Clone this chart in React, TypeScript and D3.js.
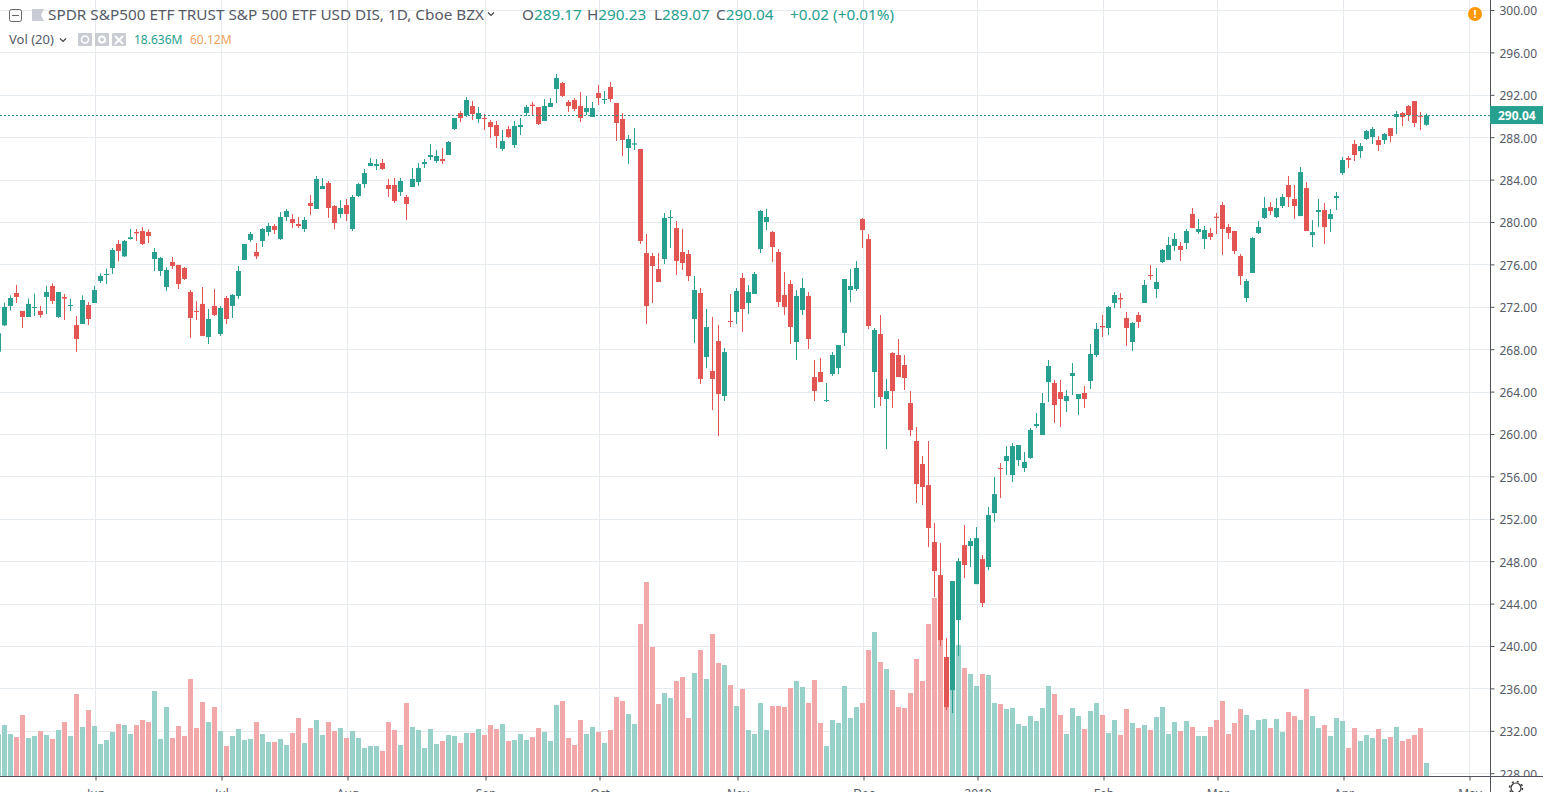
import { useEffect, useRef } from "react";
import * as d3 from "d3";

type Candle = [number, number, number, number]; // open, high, low, close

const may18: Candle[] = [
  [267.77,269.5,267.55,269.5],[270.25,272.39,270.19,271.98],[272.08,273.08,271.64,272.83],[273.3,274.06,272.36,272.93],
  [271.61,271.61,270,271.04],[271.04,272.77,271.04,272.27],[271.92,273.24,271.13,271.98],[271.61,272.08,270.98,271.23],
  [272.93,273.97,271.32,273.4],[273.97,274.22,272.27,272.55],[271.04,273.4,270.95,273.4],[272.93,273.21,270.75,272.77],
  [272.08,272.77,271.61,272.17],[270.28,271.13,267.73,268.96],[270.38,273.08,270.38,272.64],[272.17,272.45,270.28,270.85],
];
const jun18: Candle[] = [
  [272.36,273.97,272.36,273.58],[274.44,275.16,274.25,274.91],[275,275.6,274.15,275.1],[275.66,277.55,275.1,277.36],
  [277.93,278.31,276.29,277.27],[276.76,278.31,276.7,278.21],[278.4,279.34,278.34,278.56],[279.06,279.34,278.21,278.93],
  [279.15,279.53,277.83,277.93],[279.06,279.31,278.02,278.68],[276.51,277.55,275.38,277.17],[275.38,276.7,274.91,276.61],
  [273.87,275.73,273.49,275.47],[276.23,276.7,275.57,275.85],[275.95,275.95,273.68,274.15],[275.66,275.76,274.53,274.63],
  [273.4,273.58,269.06,270.95],[271.61,272.55,270.75,271.54],[272.27,273.87,269.25,269.25],[269.15,271.8,268.49,270.85],
  [272.08,273.68,271.13,271.23],
];
const jul18: Candle[] = [
  [269.44,272.08,269.25,271.89],[272.83,273.02,270.38,270.85],[272.08,273.21,270.95,273.12],[273.02,275.85,272.74,275.38],
  [276.42,277.93,276.42,277.93],[278.31,279.06,278.12,278.87],[277.17,278.02,276.51,276.76],[278.21,279.44,277.65,279.34],
  [279.06,279.91,278.68,279.63],[279.62,279.81,278.87,279.24],[278.39,280.94,278.3,280.47],[280.47,281.23,280.09,281.04],
  [280.28,280.75,279.43,279.9],[279.81,280.47,279.43,279.62],[279.34,280.47,279.06,280.19],[281.79,282.55,280.66,281.51],
  [281.23,284.34,281.23,284.06],[283.11,284.15,283.11,283.4],[283.68,283.87,280.38,281.32],[281.51,281.6,279.31,279.9],
  [280.75,282.07,280.38,281.32],
];
const aug18: Candle[] = [
  [281.6,282.17,280.09,280.75],[279.34,282.55,279.15,282.36],[282.45,283.68,282.36,283.58],[283.58,285,283.21,284.62],
  [285.28,286.04,285.28,285.57],[285.28,285.94,284.9,285.47],[285.57,285.94,284.9,285],[283.49,284.06,282.36,283.11],
  [283.49,284.15,281.79,281.98],[282.83,284.15,282.45,283.87],[282.36,282.55,280.19,281.7],[283.3,285.09,283.3,284.06],
  [283.77,285.57,283.4,285.09],[285.47,285.94,285.09,285.66],[286.13,287.36,285.85,286.32],[285.75,286.79,285.57,286.23],
  [285.94,286.98,285.47,285.75],[286.32,287.64,286.32,287.55],[288.77,289.81,288.68,289.81],[290.28,290.47,289.43,289.81],
  [290.09,291.79,289.91,291.51],[290.94,291.42,289.62,290.19],[289.72,290.85,289.34,290.28],
];
const sep18: Candle[] = [
  [289.81,290.19,288.68,289.72],[289.43,289.62,287.92,288.96],[289.15,289.53,286.98,288.11],[286.89,288.68,286.7,287.64],
  [288.77,289.06,287.92,288.02],[287.26,289.53,286.98,289.06],[288.96,289.81,288.21,289.15],[290.28,291.04,290,290.85],
  [291.07,291.32,290,290.94],[290.85,290.85,289.15,289.25],[289.53,291.6,289.53,290.94],[290.85,291.7,290.85,291.23],
  [292.55,293.96,291.23,293.59],[293.11,293.21,291.79,291.89],[291.32,291.51,290.38,290.94],[291.51,291.7,290.47,290.66],
  [290.94,292.26,289.43,289.81],[290.38,291.89,290.09,290.75],[289.91,291.32,289.91,290.75],
];
const oct18: Candle[] = [
  [292.17,292.92,291.04,291.7],[291.51,292.36,291.13,291.6],[292.74,293.21,291.32,291.6],[291.23,291.23,287.64,289.34],
  [289.72,290.28,286.23,287.74],[286.98,288.21,285.47,287.83],[287.3,288.87,286.79,287.42],[286.89,286.89,277.92,278.21],
  [277.07,278.87,270.38,272.07],[276.79,277.07,272.36,275.85],[275.56,277.07,274.34,274.34],[276.51,280.85,276.04,280.38],
  [280.38,281.13,277.55,280.47],[279.43,280.09,275,276.32],[277.17,279.34,275.47,276.13],[276.98,277.36,274.43,274.9],
  [270.85,274.9,268.58,273.58],[273.3,273.77,264.71,265.19],[267.26,271.79,266.22,270.09],[265.94,271.04,262.26,265.19],
  [268.77,270.28,259.81,263.77],[263.58,268.11,263.11,267.73],[270.66,273.21,270.09,270.56],
];
const nov18: Candle[] = [
  [271.51,273.77,270.38,273.49],[274.72,275.19,269.62,271.79],[272.36,274.05,271.32,273.39],[273.21,275.28,273.21,275.09],
  [277.45,281.13,277.07,281.04],[280,281.23,279.24,280.47],[279.06,279.15,276.22,277.64],[277.17,277.45,271.98,272.45],
  [273.11,275.28,271.22,271.98],[274.15,274.53,268.49,270.09],[268.68,273.58,266.98,273.02],[271.7,274.72,271.22,273.77],
  [273.02,273.39,268.02,268.96],[265.37,266.98,263.11,264.05],[265.85,267.17,264.9,264.9],[263.11,264.81,263.02,263.2],
  [265.66,267.73,265.47,267.45],[266.22,268.39,265.66,268.39],[269.53,274.62,268.3,274.62],[273.58,275.56,272.45,273.96],
  [273.68,276.32,273.49,275.66],
];
const dec18: Candle[] = [
  [280.28,280.38,277.54,279.24],[278.39,278.87,269.9,270.19],[265.85,270,262.45,269.81],[269.43,271.22,262.64,263.49],
  [263.3,265.18,258.58,264.05],[267.64,267.73,262.45,264.05],[267.45,268.96,265.37,265.37],[266.51,267.45,264.15,265.28],
  [262.92,264.05,259.81,260.37],[259.34,260.66,253.49,255.28],[257.17,257.92,253.3,255],[255.18,259.34,249.33,251.13],
  [249.81,251.6,244.62,247.07],[246.69,249.71,239.99,240.56],[238.96,240.75,233.95,234.24],[235.84,246.13,233.67,246.13],
  [242.45,248.3,239.05,248.01],[249.52,251.41,246.41,247.64],[249.43,250.18,247.45,249.9],
];
const jan19: Candle[] = [
  [245.84,251.22,245.84,250.18],[248.2,248.58,243.67,244.05],[247.45,253.11,247.16,252.35],[252.54,255.94,251.69,254.33],
  [256.79,257.26,253.96,256.69],[257.45,258.86,256.13,257.92],[256.13,259.15,255.47,258.86],[257.54,258.96,256.98,258.96],
  [256.79,258.3,256.42,257.36],[257.74,260.57,257.65,260.38],[260.75,261.98,260.56,260.94],[259.9,263.87,259.9,262.92],
  [264.9,266.98,263.02,266.41],[264.81,265.09,261.04,262.73],[263.96,265.09,260.66,263.3],[263.11,264.15,262.07,263.58],
  [265.47,266.7,263.68,265.75],[263.3,263.77,261.79,263.77],[263.87,264.53,262.45,263.3],[265,268.49,264.24,267.55],
  [267.45,270.47,267.26,269.91],
];
const feb19: Candle[] = [
  [270.19,271.23,269.15,270.06],[270,272.08,269.34,271.98],[272.36,273.4,271.89,273.11],[272.83,273.3,271.89,272.7],
  [270.94,271.51,268.3,270],[268.68,270.57,267.83,270.47],[271.23,271.51,270,270.57],[272.36,274.53,272.36,274.06],
  [275,275.94,274.53,274.91],[273.68,275.66,272.83,274.34],[276.23,277.45,276.13,277.36],[276.42,278.59,276.42,277.83],
  [277.74,278.96,277.26,278.4],[277.74,278.11,276.32,277.36],[278.02,279.34,277.45,279.15],[280.76,281.32,279.43,279.43],
  [279.06,280.28,278.87,279.34],[278.4,279.62,277.45,279.25],[278.96,279.43,278.3,278.59],
];
const mar19: Candle[] = [
  [280.5,280.85,278.87,280.38],[281.6,281.89,276.89,279.34],[279.53,279.81,278.4,278.96],[279.15,279.15,276.98,277.26],
  [276.79,276.98,274.06,274.91],[272.83,274.62,272.45,274.43],[275.19,278.59,275.19,278.49],[278.96,280.1,278.87,279.53],
  [280.38,282.36,280.28,281.32],[281.41,281.88,280.66,281.03],[280.47,282.26,280.37,281.32],[281.51,282.64,281.32,282.35],
  [283.49,284.34,281.41,282.35],[282.17,283.49,280.28,281.51],[280.56,285.19,280.56,284.71],[283.2,283.77,279.15,279.15],
  [278.77,280.18,277.64,279.05],[280.94,282.17,279.52,281.13],[281.13,281.79,277.92,279.52],[280.28,281.22,279.05,280.75],
  [282.26,282.83,281.13,282.45],
];
const apr19: Candle[] = [
  [284.62,286.13,284.43,285.85],[286.03,286.22,285.09,285.85],[287.36,287.73,285.75,286.32],[286.69,287.45,286.03,287.17],
  [287.83,288.68,287.73,288.58],[288.02,288.96,287.36,288.77],[287.73,288.11,286.69,287.26],[287.73,288.39,287.36,288.3],
  [288.86,288.86,287.54,288.11],[289.9,290.47,288.3,290.19],[290.28,290.37,289.05,289.9],[290.94,291.03,289.53,290.09],
  [291.41,291.41,288.96,289.34],[290.03,290.37,288.68,289.93],[289.17,290.23,289.07,290.04],
];

// millions of shares, one per candle
const volumes = [
  60.2,73.1,60.2,55.9,87.5,54.5,57.4,64.5,58.8,53.1,66,77.4,57.4,117.6,70.3,94.6,71.7,45.9,51.6,63.1,74.6,73.1,60.2,73.1,80.3,77.4,121.9,53.1,98.9,54.5,71.7,57.4,139.1,68.8,106.1,77.4,98.9,64.5,43,57.4,67.4,51.6,53.1,77.4,60.2,48.8,48.8,53.1,44.5,61.7,83.2,47.3,68.8,80.3,58.8,77.4,64.5,68.8,54.5,64.5,54.5,40.2,43,43,35.9,77.4,66,
  44.5,104.7,70.3,66,40.2,67.4,45.9,50.2,58.8,57.4,47.3,61.7,61.7,67.4,58.8,73.1,67.4,74.6,50.2,51.6,60.2,51.6,55.9,68.8,63.1,50.2,101.8,107.6,54.5,44.5,80.3,60.2,70.3,63.1,47.3,66,113.3,107.6,88.9,74.6,218,278.2,185,103.2,119,111.9,136.2,142,83.2,147.7,180.7,139.1,203.6,162,159.2,130.5,100.4,124.8,66,60.2,104.7,66,100.4,100.4,98.9,126.2,136.2,
  127.6,104.7,137.7,76,43,80.3,76,129.1,83.2,98.9,104.7,180.7,206.5,163.5,153.4,123.3,98.9,97.5,119,167.8,136.2,218,255.3,209.4,167.3,153,187.9,154.9,146.3,129.1,146.3,144.8,104.7,103.2,96.1,97.5,74.6,71.7,86,78.9,97.5,129.1,117.6,87.5,60.2,97.5,86,67.4,93.2,104.7,87.5,61.7,80.3,58.8,96.1,76,68.8,73.1,66,84.6,98.9,60.2,77.4,64.5,78.9,
  70.3,57.4,57.4,70.3,80.3,107.6,60.2,76,96.1,87.5,66,80.3,81.7,68.8,81.7,63.1,91.8,86,80.3,124.8,86,68.8,73.1,57.4,83.2,78.9,40.2,68.8,50.2,58.8,54.5,67.4,53.1,55.9,70.3,50.2,53.1,58.8,68.8,18.6,
];

const months = [may18, jun18, jul18, aug18, sep18, oct18, nov18, dec18, jan19, feb19, mar19, apr19];
const monthLabels = ["Jun", "Jul", "Aug", "Sep", "Oct", "Nov", "Dec", "2019", "Feb", "Mar", "Apr", "May"];
const priceTicks = [228, 232, 236, 240, 244, 248, 252, 256, 260, 264, 268, 272, 276, 280, 284, 288, 292, 296, 300];
const lastClose = 290.04;
const tradingDaysApril = 21;

const UP = "#27a090";
const DOWN = "#e35553";
const VOL_UP = "#97d1ca";
const VOL_DOWN = "#f2a8a8";
const GRID = "#e6ebef";
const AXIS = "#50535e";
const TEXT = "#555a66";
const FONT = "'Noto Sans', 'Open Sans', sans-serif";

const WIDTH = 1546;
const HEIGHT = 792;
const PANE_RIGHT = 1490;
const PANE_BOTTOM = 776;

export default function App() {
  const svgRef = useRef<SVGSVGElement | null>(null);

  useEffect(() => {
    if (!svgRef.current) return;
    const svg = d3.select(svgRef.current);
    svg.selectAll("*").remove();

    const candles = months.flat();

    // month starts as candle indexes, first one is the May stub so it has no label
    const monthStarts: number[] = [];
    let running = 0;
    months.forEach((m) => {
      running += m.length;
      monthStarts.push(running);
    });
    monthStarts[monthStarts.length - 1] = monthStarts[monthStarts.length - 2] + tradingDaysApril;

    const x = d3.scaleLinear().domain([0, 245]).range([-1.5, 1468.5]);
    const y = d3.scaleLinear().domain([228, 300]).range([773.2, 10]);
    const yVol = d3.scaleLinear().domain([0, 278.2]).range([PANE_BOTTOM, 582]);

    // grid
    svg.append("g")
      .selectAll("line")
      .data(priceTicks)
      .enter()
      .append("line")
      .attr("x1", 0)
      .attr("x2", PANE_RIGHT)
      .attr("y1", (d) => Math.round(y(d)) + 0.5)
      .attr("y2", (d) => Math.round(y(d)) + 0.5)
      .attr("stroke", GRID);

    svg.append("g")
      .selectAll("line")
      .data(monthStarts)
      .enter()
      .append("line")
      .attr("x1", (d) => x(d) + 1)
      .attr("x2", (d) => x(d) + 1)
      .attr("y1", 0)
      .attr("y2", PANE_BOTTOM)
      .attr("stroke", GRID);

    // volume
    svg.append("g")
      .selectAll("rect")
      .data(volumes)
      .enter()
      .append("rect")
      .attr("x", (_, i) => x(i) - 2.5)
      .attr("width", 5)
      .attr("y", (d) => yVol(d))
      .attr("height", (d) => PANE_BOTTOM - yVol(d))
      .attr("fill", (_, i) => (candles[i][3] >= candles[i][0] ? VOL_UP : VOL_DOWN));

    // candles
    const candleGroup = svg.append("g")
      .selectAll("g")
      .data(candles)
      .enter()
      .append("g")
      .attr("fill", (d) => (d[3] >= d[0] ? UP : DOWN));

    candleGroup.append("rect")
      .attr("x", (_, i) => x(i) - 0.5)
      .attr("width", 1)
      .attr("y", (d) => y(d[1]))
      .attr("height", (d) => y(d[2]) - y(d[1]));

    candleGroup.append("rect")
      .attr("x", (_, i) => x(i) - 2.5)
      .attr("width", 5)
      .attr("y", (d) => y(Math.max(d[0], d[3])))
      .attr("height", (d) => Math.max(1, Math.abs(y(d[0]) - y(d[3]))));

    // last price line
    svg.append("line")
      .attr("x1", 0)
      .attr("x2", PANE_RIGHT)
      .attr("y1", y(lastClose))
      .attr("y2", y(lastClose))
      .attr("stroke", "#1f8f83")
      .attr("stroke-dasharray", "2 2");

    // price axis
    const yAxisGroup = svg.append("g")
      .attr("transform", `translate(${PANE_RIGHT + 0.5},0)`)
      .call(d3.axisRight(y).tickValues(priceTicks).tickFormat(d3.format(".2f")).tickSize(4).tickPadding(5).tickSizeOuter(0));
    yAxisGroup.select(".domain").remove();
    yAxisGroup.selectAll("line").attr("stroke", AXIS);
    yAxisGroup.selectAll("text").attr("fill", TEXT).attr("font-size", 12).attr("font-family", FONT).attr("dy", "0.4em");

    svg.append("line")
      .attr("x1", PANE_RIGHT + 0.5)
      .attr("x2", PANE_RIGHT + 0.5)
      .attr("y1", 0)
      .attr("y2", HEIGHT)
      .attr("stroke", AXIS);

    // last price tag
    svg.append("rect")
      .attr("x", PANE_RIGHT)
      .attr("y", y(lastClose) - 9.5)
      .attr("width", 53)
      .attr("height", 18)
      .attr("fill", UP);
    svg.append("text")
      .attr("x", 1498)
      .attr("y", y(lastClose) + 4)
      .attr("fill", "#fff")
      .attr("font-size", 12)
      .attr("font-weight", 700)
      .attr("font-family", FONT)
      .text(d3.format(".2f")(lastClose));

    // the time axis sits on top of the 228 label
    svg.append("rect")
      .attr("x", PANE_RIGHT + 1)
      .attr("y", PANE_BOTTOM)
      .attr("width", WIDTH - PANE_RIGHT)
      .attr("height", HEIGHT - PANE_BOTTOM)
      .attr("fill", "#fff");

    const xAxisGroup = svg.append("g")
      .attr("transform", `translate(1,${PANE_BOTTOM + 0.5})`)
      .call(
        d3.axisBottom(x)
          .tickValues(monthStarts)
          .tickFormat((_, i) => monthLabels[i])
          .tickSize(4)
          .tickPadding(8.5)
          .tickSizeOuter(0)
      );
    xAxisGroup.select(".domain").remove();
    xAxisGroup.selectAll("line").attr("stroke", AXIS);
    xAxisGroup.selectAll("text").attr("fill", TEXT).attr("font-size", 12).attr("font-family", FONT);

    svg.append("line")
      .attr("x1", 0)
      .attr("x2", 1543)
      .attr("y1", PANE_BOTTOM + 0.5)
      .attr("y2", PANE_BOTTOM + 0.5)
      .attr("stroke", AXIS);

    // settings gear, bottom right
    svg.append("circle")
      .attr("cx", 1516)
      .attr("cy", 788)
      .attr("r", 5)
      .attr("fill", "none")
      .attr("stroke", "#333")
      .attr("stroke-width", 1.2);
    svg.append("circle")
      .attr("cx", 1516)
      .attr("cy", 788)
      .attr("r", 6.5)
      .attr("fill", "none")
      .attr("stroke", "#333")
      .attr("stroke-width", 1.5)
      .attr("stroke-dasharray", "2 3.1");
  }, []);

  const chevron = (cx: number, cy: number) => (
    <path d={`M${cx - 3} ${cy - 1.5}L${cx} ${cy + 1.5}L${cx + 3} ${cy - 1.5}`} fill="none" stroke="#444" strokeWidth={1.2} />
  );

  return (
    <div style={{ position: "absolute", left: 0, top: 0, width: WIDTH, height: HEIGHT, overflow: "hidden", background: "#fff" }}>
      <svg ref={svgRef} width={WIDTH} height={HEIGHT} style={{ position: "absolute", left: 0, top: 0, display: "block" }} />
      <svg width={WIDTH} height={HEIGHT} style={{ position: "absolute", left: 0, top: 0, display: "block" }} fontFamily={FONT}>
        {/* collapse button and flag */}
        <rect x={9.5} y={9.5} width={12} height={12} rx={2} fill="none" stroke="#666" />
        <line x1={12} x2={19} y1={15.5} y2={15.5} stroke="#666" />
        <path d="M32 9H44L41 15L44 21H32Z" fill="#c9ccd4" />
        <text x={48} y={20} fontSize={15.3} fill="#555a66">SPDR S&amp;P500 ETF TRUST S&amp;P 500 ETF USD DIS, 1D, Cboe BZX</text>
        {chevron(491, 14)}
        <text y={20} fontSize={15.3} fill={UP}>
          <tspan x={522} fill="#555a66">O</tspan><tspan>289.17</tspan>
          <tspan x={587} fill="#555a66">H</tspan><tspan>290.23</tspan>
          <tspan x={654} fill="#555a66">L</tspan><tspan>289.07</tspan>
          <tspan x={716} fill="#555a66">C</tspan><tspan>290.04</tspan>
          <tspan x={790}>+0.02 (+0.01%)</tspan>
        </text>

        {/* volume legend */}
        <text x={9} y={44} fontSize={13} fill="#555a66">Vol (20)</text>
        {chevron(63, 40)}
        {[78, 95, 112].map((bx) => (
          <rect key={bx} x={bx} y={33} width={14} height={13} rx={1} fill="#c9cdd3" />
        ))}
        <circle cx={85} cy={39.5} r={3.5} fill="none" stroke="#fff" strokeWidth={1.5} />
        <circle cx={102} cy={39.5} r={3} fill="none" stroke="#fff" strokeWidth={2} />
        <path d="M115 36L123 44M123 36L115 44" stroke="#fff" strokeWidth={1.8} />
        <text x={134} y={44} fontSize={12} fill={UP}>18.636M</text>
        <text x={190} y={44} fontSize={12} fill="#f0a060">60.12M</text>

        {/* alert badge */}
        <circle cx={1475} cy={14} r={7} fill="#ff9800" />
        <text x={1475} y={18} fontSize={11} fontWeight={700} fill="#fff" textAnchor="middle">!</text>
      </svg>
    </div>
  );
}
